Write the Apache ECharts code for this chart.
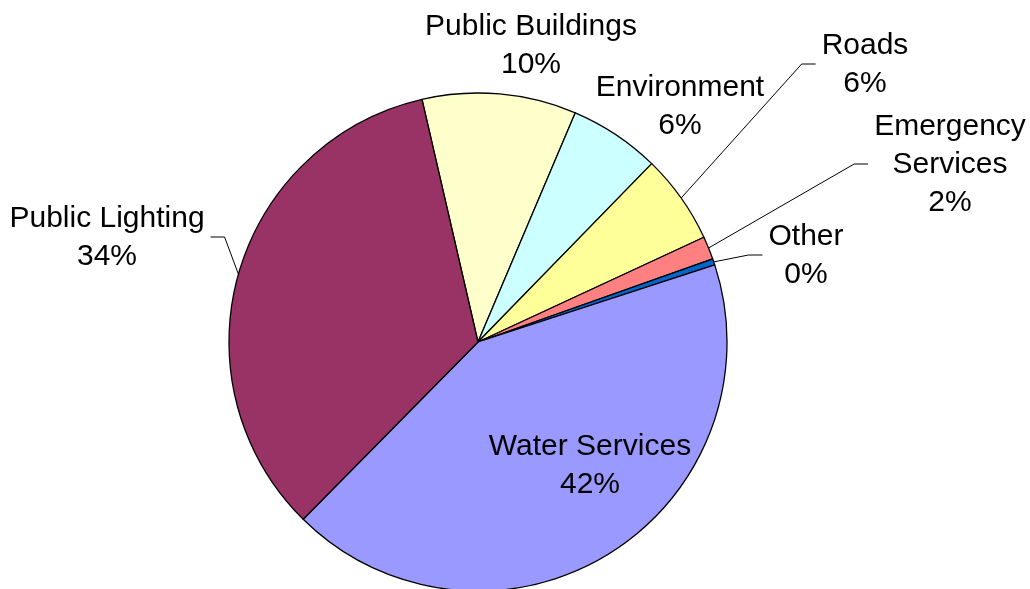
<!DOCTYPE html>
<html><head><meta charset="utf-8">
<script src="https://cdn.jsdelivr.net/npm/echarts@6/dist/echarts.min.js"></script>
<style>html,body{margin:0;padding:0;background:#fff}#chart{width:1030px;height:589px}</style>
</head><body><div id="chart"></div>
<script>
// Data (percent shares, read clockwise starting at Public Buildings)
const categories = ['Public Buildings', 'Environment', 'Roads', 'Emergency\nServices', 'Other', 'Water Services', 'Public Lighting'];
const values = [10.0, 5.9, 5.8, 1.5, 0.4, 42.4, 34.0];
const colors = ['#FFFFCC', '#CCFFFF', '#FFFF99', '#FF8080', '#0066CC', '#9999FF', '#993366'];
const hasLeader = [false, false, true, true, true, false, true];
const labelPos = [[531, 46], [680, 107], [865, 65], [950, 165], [806, 256], [590, 466], [107, 238]];

const chart = echarts.init(document.getElementById('chart'), null, {renderer: 'canvas'});
chart.setOption({
  backgroundColor: '#ffffff',
  animation: false,
  series: [{
    type: 'pie',
    center: [478, 342],
    radius: 249,
    startAngle: 103,
    clockwise: true,
    avoidLabelOverlap: false,
    percentPrecision: 0,
    itemStyle: {borderColor: '#000', borderWidth: 1.3},
    emphasis: {disabled: true},
    label: {
      show: true,
      position: 'outside',
      color: '#000',
      fontFamily: 'Liberation Sans, Arial, sans-serif',
      fontSize: 30,
      lineHeight: 38,
      align: 'center',
      formatter: '{b}\n{d}%'
    },
    labelLine: {show: true, length: 20, length2: 10, lineStyle: {color: '#000', width: 1}},
    labelLayout: function (p) {
      const i = p.dataIndex;
      const x = labelPos[i][0], y = labelPos[i][1];
      const res = {x: x, y: y, align: 'center', verticalAlign: 'middle'};
      if (hasLeader[i] && p.labelLinePoints) {
        const s = p.labelLinePoints[0];
        const w = p.labelRect.width;
        const right = x > s[0];
        const ex = right ? x - w / 2 - 6 : x + w / 2 + 6;
        const bx = right ? ex - 14 : ex + 14;
        res.labelLinePoints = [s, [bx, y - 1], [ex, y - 1]];
      }
      return res;
    },
    data: categories.map(function (c, i) {
      return {
        name: c,
        value: values[i],
        itemStyle: {color: colors[i]},
        labelLine: {show: hasLeader[i]}
      };
    })
  }]
});
</script>
</body></html>
